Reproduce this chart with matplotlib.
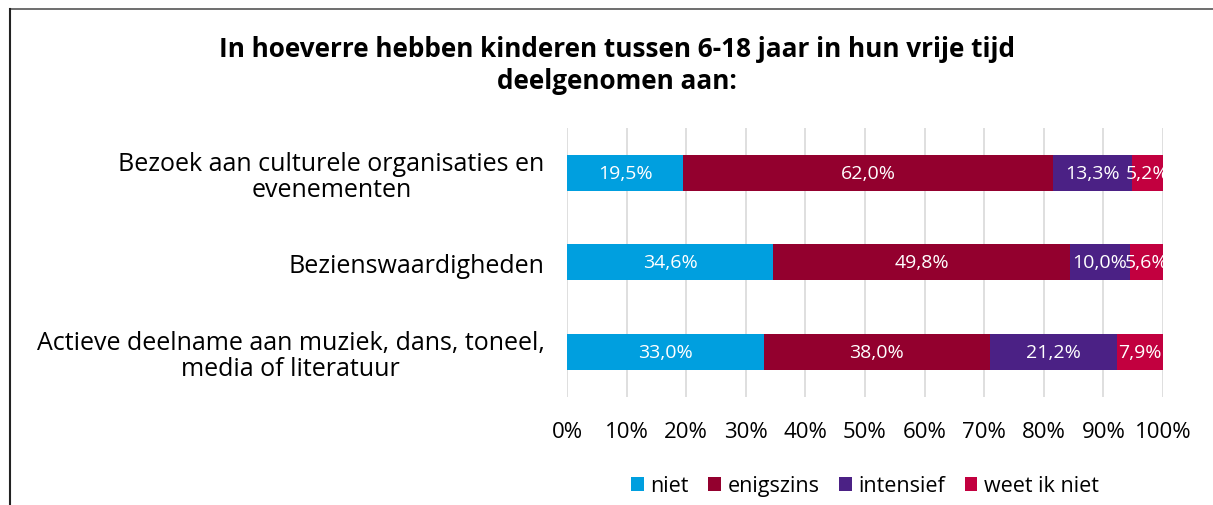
import matplotlib.pyplot as plt
import numpy as np

plt.rcParams['font.family'] = ['Open Sans', 'DejaVu Sans']

categories = [
    "Bezoek aan culturele organisaties en\nevenementen",
    "Bezienswaardigheden",
    "Actieve deelname aan muziek, dans, toneel,\nmedia of literatuur",
]
series_names = ["niet", "enigszins", "intensief", "weet ik niet"]
niet = [19.5, 34.6, 33.0]
enigszins = [62.0, 49.8, 38.0]
intensief = [13.3, 10.0, 21.2]
weet_niet = [5.2, 5.6, 7.9]
colors = ["#009FDF", "#93002E", "#4B2185", "#C2003F"]

fig = plt.figure(figsize=(12.13, 5.06), dpi=100)
ax = fig.add_axes([0.4674, 0.2134, 0.4914, 0.532])

y = np.arange(len(categories))
left = np.zeros(len(categories))
for name, vals, col in zip(series_names, [niet, enigszins, intensief, weet_niet], colors):
    vals = np.array(vals)
    bars = ax.barh(y, vals, left=left, height=0.4, color=col, label=name,
                   linewidth=0, zorder=3)
    for b, v in zip(bars, vals):
        ax.text(b.get_x() + b.get_width() / 2, b.get_y() + b.get_height() / 2,
                f"{v:.1f}%".replace(".", ","), color="white", fontsize=14,
                ha="center", va="center", zorder=4)
    left += vals

ax.set_xlim(0, 100)
ax.set_ylim(2.5, -0.5)
ax.set_xticks(np.arange(0, 101, 10))
ax.set_xticklabels([f"{t}%" for t in range(0, 101, 10)], fontsize=16)
ax.set_yticks(y)
ax.set_yticklabels(categories, fontsize=18, linespacing=1.05)
for lab in ax.get_yticklabels():
    lab.set_multialignment("center")
ax.tick_params(axis="both", length=0)
ax.tick_params(axis="y", pad=16)
ax.tick_params(axis="x", pad=17)
ax.grid(axis="x", color="#D9D9D9", linewidth=1.2, zorder=0)
for s in ax.spines.values():
    s.set_visible(False)

fig.text(0.509, 0.871, "In hoeverre hebben kinderen tussen 6-18 jaar in hun vrije tijd\ndeelgenomen aan:",
         ha="center", va="center", fontsize=18.8, fontweight="bold", linespacing=1.25)

ax.legend(loc="center", bbox_to_anchor=(0.5, -0.33), ncol=4, frameon=False,
          fontsize=15.5, handlelength=0.6, handleheight=0.6, handletextpad=0.3,
          columnspacing=0.9)

# frame lines along top and left edge
fig.add_artist(plt.Line2D([0.0082, 1.0], [0.98, 0.98], color="#555555", linewidth=1.2))
fig.add_artist(plt.Line2D([0.0082, 0.0082], [0.0, 0.98], color="#222222", linewidth=1.5))

fig.savefig("out.png", dpi=100)
